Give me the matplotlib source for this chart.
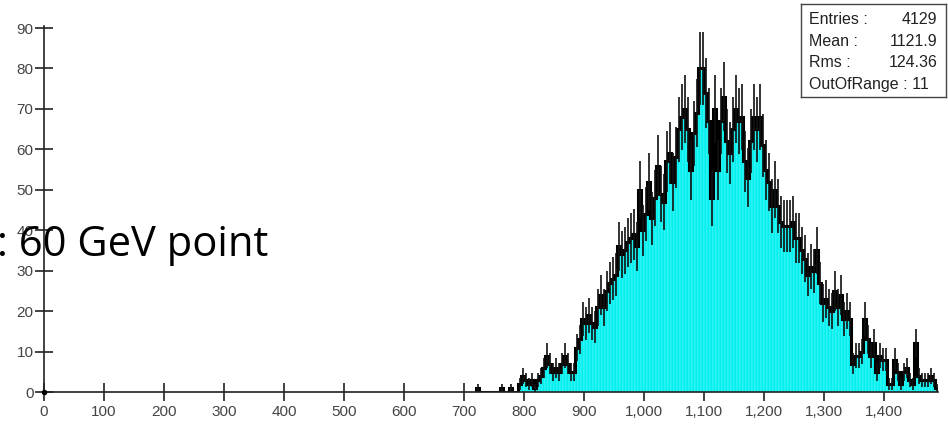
import numpy as np
import matplotlib
matplotlib.use("Agg")
import matplotlib.pyplot as plt
from matplotlib.ticker import FuncFormatter

# Histogram: 5-unit bins starting at 720
bin_width = 5
first_edge = 720
counts = [
    1, 0, 0, 0, 0, 0, 0, 0, 1, 0, 0, 1, 0, 0,                 # 720-785
    2, 4, 3, 2, 3, 1, 3, 4,                                   # 790-825
    6, 9, 7, 5, 6, 5, 7, 9, 7, 5, 5,                          # 830-880
    11, 13, 18, 17, 19, 17, 16, 21, 24, 21, 25,               # 885-935
    27, 28, 29, 36, 34, 35, 37, 38, 39, 36, 50,               # 940-990
    40, 44, 52, 43, 48, 56, 49, 47, 57, 59, 52,               # 995-1045
    58, 65, 68, 70, 65, 55, 64, 69, 80, 80, 74,               # 1050-1100
    67, 48, 70, 55, 67, 73, 62, 59, 65, 70, 67,               # 1105-1155
    68, 57, 53, 62, 68, 65, 68, 61, 55, 52, 46,               # 1160-1210
    50, 46, 42, 41, 41, 41, 42, 38, 38, 35, 33,               # 1215-1265
    29, 31, 30, 35, 27, 22, 23, 21, 20, 25, 21,               # 1270-1320
    24, 18, 20, 18, 7, 9, 9, 10, 18, 13, 9,                   # 1325-1375
    12, 5, 9, 8, 8, 2, 2, 8, 5, 2, 5,                         # 1380-1430
    6, 3, 2, 12, 4, 3, 3, 3, 4, 3, 1,                         # 1435-1485
]

x_ticks = [0, 100, 200, 300, 400, 500, 600, 700, 800, 900,
           1000, 1100, 1200, 1300, 1400]
y_ticks = [0, 10, 20, 30, 40, 50, 60, 70, 80, 90]

stat_labels = ["Entries :", "Mean :", "Rms :", "OutOfRange : 11"]
stat_values = ["4129", "1121.9", "124.36", ""]

title_text = ": 60 GeV point"

counts = np.array(counts, dtype=float)
edges = first_edge + bin_width * np.arange(len(counts) + 1)
centers = 0.5 * (edges[:-1] + edges[1:])

fig = plt.figure(figsize=(9.48, 4.25), dpi=100)
ax = fig.add_axes([44 / 948, 33 / 425, 894 / 948, 366 / 425])

# Cyan filled bars
ax.bar(centers, counts, width=bin_width, color="#00f0f0",
       edgecolor="#7cf6f6", linewidth=0.3, zorder=2)
# Black outline of the histogram
nz = counts > 0
ax.stairs(counts, edges, color="black", linewidth=2.2, zorder=3)
# Poisson error bars
err = np.sqrt(counts)
ax.vlines(centers[nz], (counts - err)[nz], (counts + err)[nz],
          color="#111111", linewidth=1.2, zorder=4)

ax.set_xlim(0, 1490)
ax.set_ylim(0, 90.5)
ax.set_xticks(x_ticks)
ax.set_yticks(y_ticks)
ax.xaxis.set_major_formatter(FuncFormatter(lambda v, p: f"{int(v):,}"))

for s in ("top", "right"):
    ax.spines[s].set_visible(False)
for s in ("left", "bottom"):
    ax.spines[s].set_linewidth(1.2)
    ax.spines[s].set_color("#222222")
    ax.spines[s].set_zorder(5)

ax.tick_params(axis="both", direction="inout", length=13, width=1.2,
               color="#222222", labelcolor="#444444", labelsize=11)
ax.tick_params(axis="x", pad=3)
ax.tick_params(axis="y", pad=1)
for lab in ax.get_xticklabels() + ax.get_yticklabels():
    lab.set_fontfamily("Liberation Sans")

ax.plot([0], [0], marker="o", color="black", markersize=3,
        clip_on=False, zorder=6)

# Statistics box
box = fig.add_axes([801 / 948, 1 - 97 / 425, 145 / 948, 93 / 425])
box.set_xticks([])
box.set_yticks([])
for s in box.spines.values():
    s.set_color("#444444")
    s.set_linewidth(1.0)
for i, (lab, val) in enumerate(zip(stat_labels, stat_values)):
    yy = 0.83 - i * 0.232
    box.text(0.055, yy, lab, transform=box.transAxes, ha="left", va="center",
             fontsize=11.5, family="Liberation Sans", color="#222222")
    if val:
        box.text(0.94, yy, val, transform=box.transAxes, ha="right",
                 va="center", fontsize=11.5, family="Liberation Sans",
                 color="#222222")

fig.text(-3 / 948, 1 - 245 / 425, title_text, ha="left", va="center",
         fontsize=30, family="Open Sans", color="black", zorder=10)

fig.savefig("out.png", dpi=100)
